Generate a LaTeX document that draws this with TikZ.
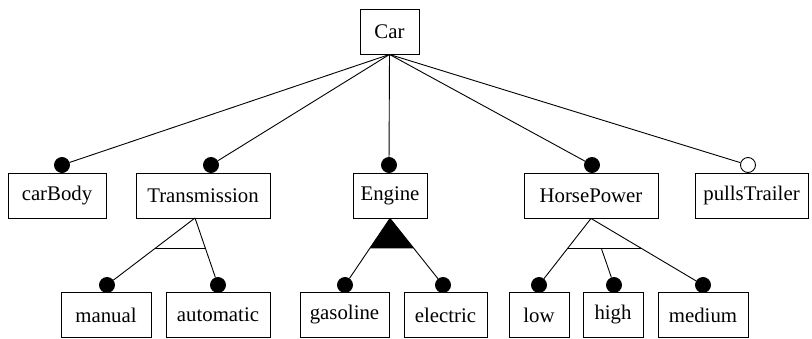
\documentclass[tikz,border=0pt]{standalone}
\usepackage{fontspec}
\setmainfont{Liberation Serif}
\usetikzlibrary{calc}
\tikzset{
  feature/.style={shape=rectangle,draw=black,line width=0.9pt,minimum height=45pt,inner sep=0pt,font=\fontsize{20.8}{24}\selectfont},
  mand/.style={shape=circle,draw=black,fill=black,minimum size=15pt,inner sep=0pt},
  opt/.style={shape=circle,draw=black,fill=white,minimum size=15pt,inner sep=0pt,line width=0.9pt},
}
\begin{document}
\begin{tikzpicture}[x=1pt,y=-1pt,line width=0.9pt]
\useasboundingbox (0,0) rectangle (812,338);
% features
\node[feature,minimum width=59pt] (car) at (389.5,31.5) {Car};
\node[feature,minimum width=98pt] (carBody) at (57,195.5) {carBody};
\node[feature,minimum width=134pt] (transmission) at (203,195.5) {Transmission};
\node[feature,minimum width=74pt] (engine) at (390,195.5) {Engine};
\node[feature,minimum width=134pt] (horsePower) at (591,195.5) {HorsePower};
\node[feature,minimum width=113pt] (pullsTrailer) at (751.5,195.5) {pullsTrailer};
\node[feature,minimum width=90pt] (manual) at (106,315) {manual};
\node[feature,minimum width=104pt] (automatic) at (218,315) {automatic};
\node[feature,minimum width=89pt] (gasoline) at (344.5,315) {gasoline};
\node[feature,minimum width=83pt] (electric) at (445.5,315) {electric};
\node[feature,minimum width=60pt] (low) at (539,315) {low};
\node[feature,minimum width=60pt] (high) at (613,315) {high};
\node[feature,minimum width=90pt] (medium) at (703,315) {medium};
% dots
\node[mand] (carBodyDot) at (62,165) {};
\node[mand] (transmissionDot) at (211,165) {};
\node[mand] (engineDot) at (389,165) {};
\node[mand] (horsePowerDot) at (592,165) {};
\node[opt] (pullsTrailerDot) at (748,165) {};
\node[mand] (manualDot) at (107,285) {};
\node[mand] (automaticDot) at (218,285) {};
\node[mand] (gasolineDot) at (345,285) {};
\node[mand] (electricDot) at (443,285) {};
\node[mand] (lowDot) at (539,285) {};
\node[mand] (highDot) at (614,285) {};
\node[mand] (mediumDot) at (703,285) {};
\coordinate (transApex) at (195,218);
% Car
\draw[-] (car.south) -- (carBodyDot);
\draw[-] (car.south) -- (transmissionDot);
\draw[-] (car.south) -- (engineDot);
\draw[-] (car.south) -- (horsePowerDot);
\draw[-] (car.south) -- (pullsTrailerDot);
% Transmission
\draw[-] (transApex) -- (manualDot);
\draw[-] (transApex) -- (automaticDot);
\draw[-] ($(transApex)!0.45!(manualDot.center)$) -- ($(transApex)!0.45!(automaticDot.center)$);
% Engine
\draw[-] (engine.south) -- (gasolineDot);
\draw[-] (engine.south) -- (electricDot);
\fill[black] (engine.south) -- ($(engine.south)!0.45!(gasolineDot.center)$) -- ($(engine.south)!0.45!(electricDot.center)$) -- cycle;
% HorsePower
\draw[-] (horsePower.south) -- (lowDot);
\draw[-] (horsePower.south) -- (mediumDot);
\draw[-] ($(horsePower.south)!0.45!(lowDot.center)$) -- ($(horsePower.south)!0.45!(mediumDot.center)$);
\draw[-] ($(horsePower.south)!0.45!(highDot.center)$) -- (highDot);
\end{tikzpicture}
\end{document}
